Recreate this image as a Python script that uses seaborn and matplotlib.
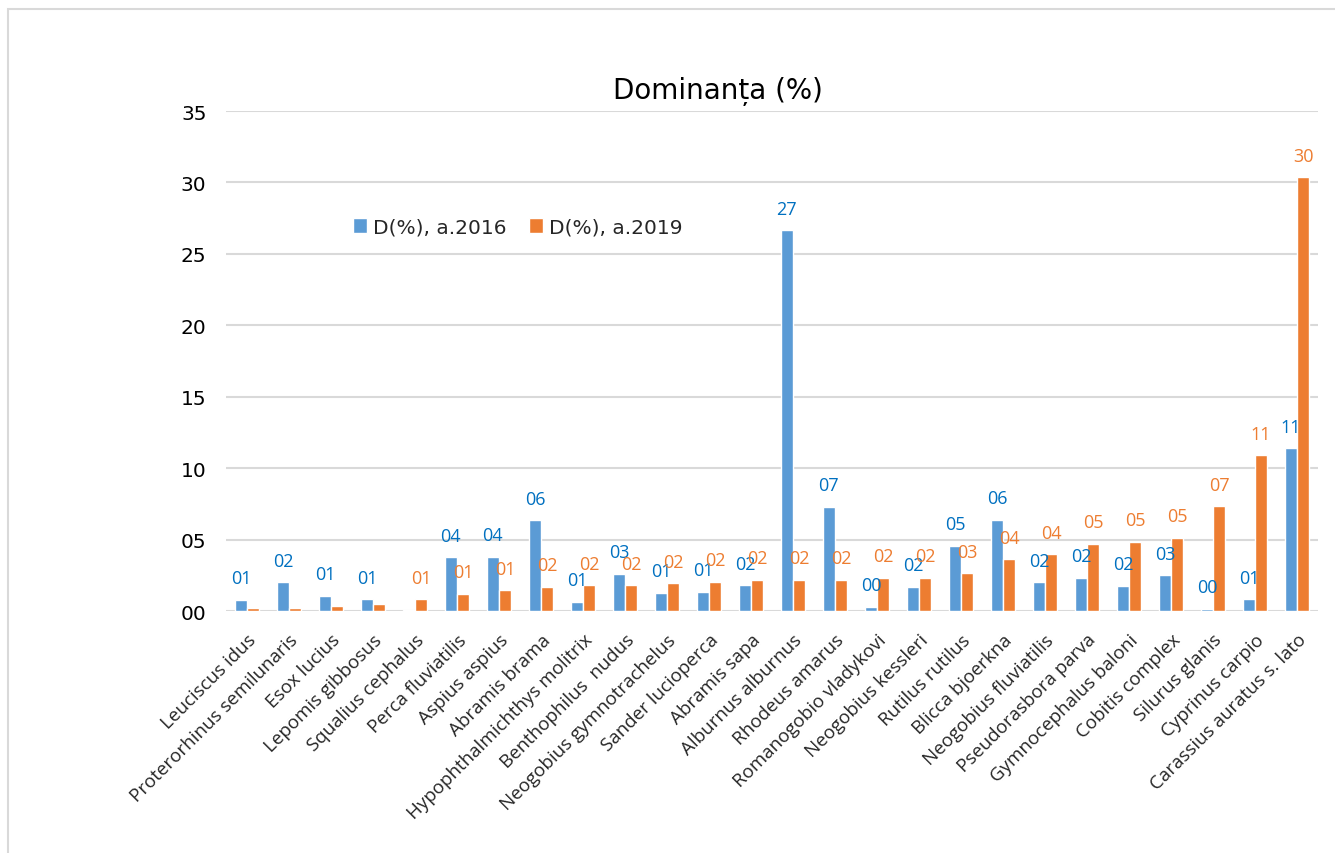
import matplotlib
matplotlib.use("Agg")
import matplotlib.pyplot as plt
import seaborn as sns
import pandas as pd
from matplotlib.patches import Rectangle

species = [
    "Leuciscus idus", "Proterorhinus semilunaris", "Esox lucius", "Lepomis gibbosus",
    "Squalius cephalus", "Perca fluviatilis", "Aspius aspius", "Abramis brama",
    "Hypophthalmichthys molitrix", "Benthophilus  nudus", "Neogobius gymnotrachelus",
    "Sander lucioperca", "Abramis sapa", "Alburnus alburnus", "Rhodeus amarus",
    "Romanogobio vladykovi", "Neogobius kessleri", "Rutilus rutilus", "Blicca bjoerkna",
    "Neogobius fluviatilis", "Pseudorasbora parva", "Gymnocephalus baloni",
    "Cobitis complex", "Silurus glanis", "Cyprinus carpio", "Carassius auratus s. lato",
]
d2016 = [0.77, 2.0, 1.07, 0.82, 0.07, 3.76, 3.8, 6.35, 0.65, 2.59, 1.28, 1.33, 1.82,
         26.66, 7.3, 0.3, 1.7, 4.55, 6.4, 2.0, 2.34, 1.78, 2.52, 0.17, 0.84, 11.4]
d2019 = [0.23, 0.23, 0.35, 0.49, 0.84, 1.19, 1.45, 1.7, 1.82, 1.82, 1.94, 2.05, 2.17,
         2.17, 2.17, 2.31, 2.31, 2.64, 3.62, 3.97, 4.72, 4.86, 5.11, 7.33, 10.9, 30.37]
lab2016 = ["01", "02", "01", "01", "", "04", "04", "06", "01", "03", "01", "01", "02",
           "27", "07", "00", "02", "05", "06", "02", "02", "02", "03", "00", "01", "11"]
lab2019 = ["", "", "", "", "01", "01", "01", "02", "02", "02", "02", "02", "02",
           "02", "02", "02", "02", "03", "04", "04", "05", "05", "05", "07", "11", "30"]
series = ["D(%), a.2016", "D(%), a.2019"]

df = pd.DataFrame({
    "species": species * 2,
    "value": d2016 + d2019,
    "series": [series[0]] * len(species) + [series[1]] * len(species),
})

sns.set_theme(style="white")
plt.rcParams["font.family"] = ["DejaVu Sans"]

fig = plt.figure(figsize=(13.35, 8.54), dpi=100)
fig.patches.append(Rectangle((8 / 1335, -0.1), 1.2, 1 - 10 / 854 + 0.1, transform=fig.transFigure,
                             fill=False, edgecolor="#d9d9d9", linewidth=1.5))
ax = fig.add_axes([226 / 1335, 1 - 612 / 854, 1092 / 1335, 500 / 854])

colors = ["#5B9BD5", "#ED7D31"]
sns.barplot(data=df, x="species", y="value", hue="series", palette=colors,
            width=0.58, gap=0.06, ax=ax, saturation=1, legend=True)

ax.set_ylim(0, 35)
ax.set_yticks(range(0, 36, 5))
ax.set_yticklabels([f"{v:02d}" for v in range(0, 36, 5)], fontsize=14.5, color="#000000",
                   family=["DejaVu Sans"])
ax.yaxis.grid(True, color="#d9d9d9", linewidth=1.5)
ax.set_axisbelow(True)
for s in ax.spines.values():
    s.set_visible(False)
ax.tick_params(axis="both", length=0)
ax.tick_params(axis="y", pad=14)
ax.set_xlabel("")
ax.set_ylabel("")
ax.set_xlim(-0.5, len(species) - 0.5)
ax.set_xticks(range(len(species)))
ax.set_xticklabels(species, rotation=45, ha="right", rotation_mode="anchor",
                   fontsize=13.5, family=["Open Sans"])
ax.tick_params(axis="x", pad=14)

label_colors = ["#0070C0", "#ED7D31"]
for cont, labs, lc in zip(ax.containers, [lab2016, lab2019], label_colors):
    for bar, lab in zip(cont, labs):
        if not lab:
            continue
        ax.annotate(lab, (bar.get_x() + bar.get_width() / 2, bar.get_height()),
                    xytext=(0, 9), textcoords="offset points", ha="center", va="bottom",
                    fontsize=13, color=lc, family=["Open Sans"])

leg = ax.legend(loc="center left", bbox_to_anchor=(0.1, 0.768), ncol=2, frameon=False,
                fontsize=14.5, handlelength=0.7, handleheight=0.7, handletextpad=0.3,
                columnspacing=1.1)

fig.text(718 / 1335, 1 - 92 / 854, "Dominanța (%)", ha="center", va="center", fontsize=20,
         color="#000000")

fig.savefig("out.png", dpi=100)
